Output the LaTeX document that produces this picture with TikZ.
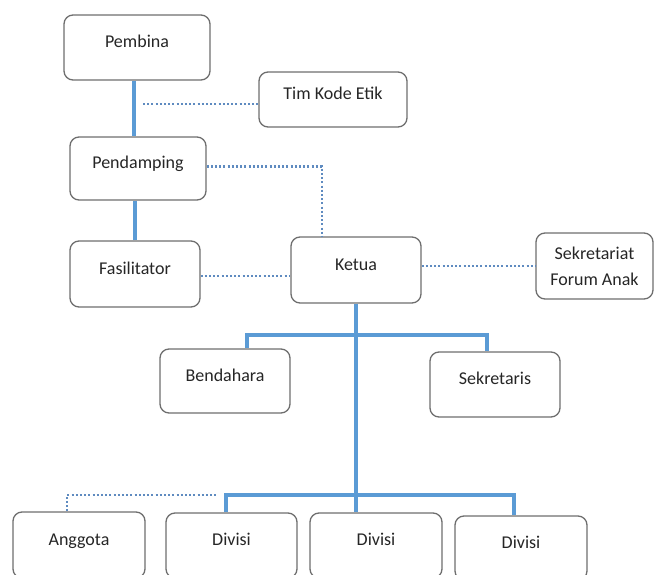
\documentclass[tikz,border=0pt]{standalone}
\usepackage{fontspec}
\setmainfont{Carlito}
\definecolor{garisbiru}{HTML}{5B9BD5}
\definecolor{titikbiru}{HTML}{5F8BC0}
\definecolor{tepi}{HTML}{6E6E6E}
\tikzset{
    kotak/.style={draw=tepi, line width=1.3pt, rounded corners=9pt, fill=white,
        minimum width=130pt, minimum height=65pt, inner sep=2pt,
        font=\fontsize{18}{26}\selectfont, text=black!85},
    satubaris/.style={text height=13pt, text depth=13pt},
    garis/.style={draw=garisbiru, line width=4pt},
    titik/.style={draw=titikbiru, line width=2.3pt, dash pattern=on 2pt off 2.2pt}
}
\begin{document}
\begin{tikzpicture}[x=1pt, y=-1pt]
    \path[use as bounding box, clip] (0,0) rectangle (654,575);

    % Boxes
    \node[kotak, satubaris, minimum width=146pt] (pembina) at (137,47.5) {Pembina};
    \node[kotak, satubaris, minimum width=148pt, minimum height=55pt] (timkode) at (333,99.5) {Tim Kode Etik};
    \node[kotak, satubaris, minimum width=136pt, minimum height=63pt] (pendamping) at (138,168.5) {Pendamping};
    \node[kotak, satubaris, minimum height=66pt] (fasilitator) at (135,274) {Fasilitator};
    \node[kotak, satubaris, minimum height=66pt] (ketua) at (356,270) {Ketua};
    \node[kotak, align=center, minimum width=117pt, minimum height=66pt] (sekretariat) at (594.5,266) {Sekretariat\\Forum Anak};
    \node[kotak, satubaris, minimum height=64pt] (bendahara) at (225,381) {Bendahara};
    \node[kotak, satubaris] (sekretaris) at (495,384.5) {Sekretaris};
    \node[kotak, satubaris, minimum width=132pt, minimum height=66pt] (anggota) at (79,545) {Anggota};
    \node[kotak, satubaris, minimum width=131pt] (divisia) at (231.5,545.5) {Divisi};
    \node[kotak, satubaris, minimum width=132pt] (divisib) at (376,545.5) {Divisi};
    \node[kotak, satubaris, minimum width=132pt, minimum height=64pt] (divisic) at (521,548) {Divisi};

    % Bus points
    \coordinate (busatas) at (356,335);
    \coordinate (busbawah) at (356,495);
    \coordinate (kodeawal) at (143,104);

    % Solid lines
    \draw[garis] ([xshift=-3pt]pembina.south) -- ([xshift=-3pt]pembina.south |- pendamping.north);
    \draw[garis] (fasilitator.north) -- (fasilitator.north |- pendamping.south);
    \draw[garis] (ketua.south) -- (ketua.south |- divisib.north);
    \draw[garis] ([xshift=22pt]bendahara.north) |- (busatas) -| ([xshift=-8pt]sekretaris.north);
    \draw[garis] ([xshift=-5.5pt]divisia.north) |- (busbawah) -| ([xshift=-7pt]divisic.north);

    % Dotted lines
    \draw[titik] (kodeawal) -- (kodeawal -| timkode.west);
    \draw[titik] ([yshift=2pt]pendamping.east) -| ([xshift=-34pt]ketua.north);
    \draw[titik] ([yshift=-2pt]fasilitator.east) -- ([yshift=-2pt]fasilitator.east -| ketua.west);
    \draw[titik] (sekretariat.west -| ketua.east) -- (sekretariat.west);
    \draw[titik] ([xshift=-12pt]anggota.north) |- ([xshift=-13pt]divisia.north |- busbawah);
\end{tikzpicture}
\end{document}
